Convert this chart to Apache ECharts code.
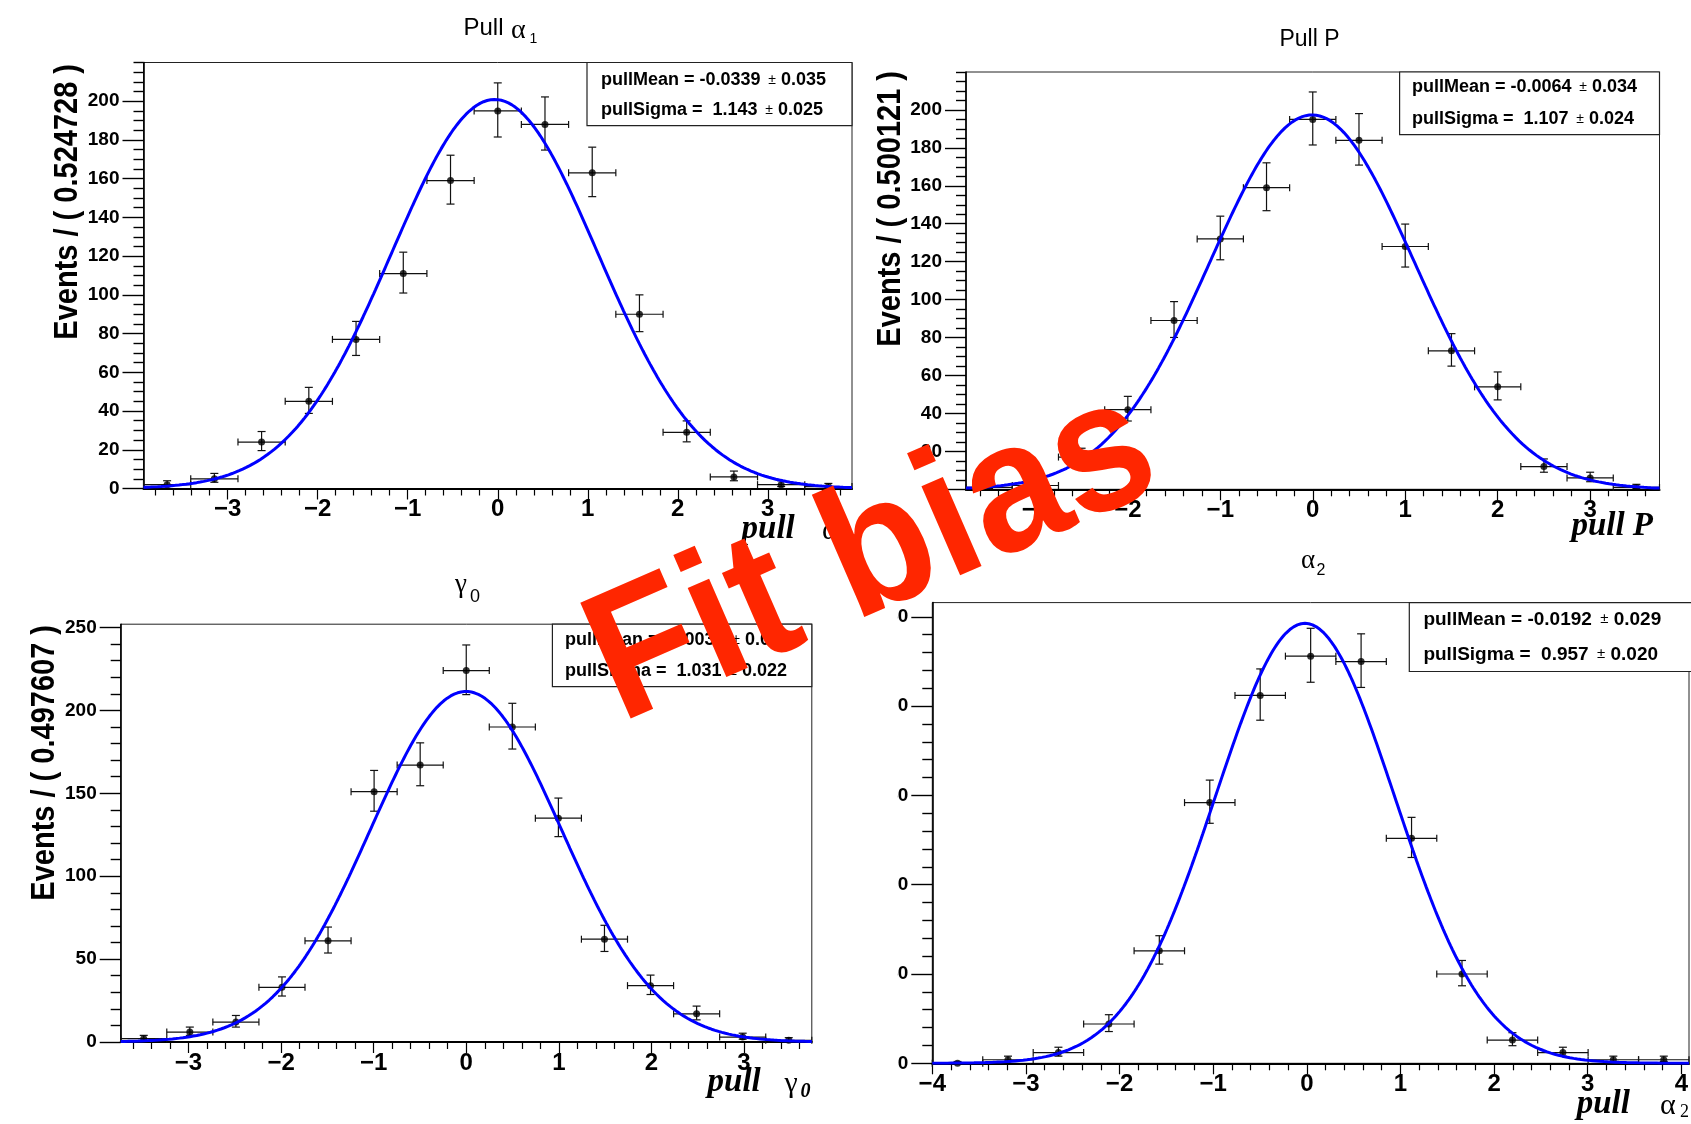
<!DOCTYPE html>
<html>
<head>
<meta charset="utf-8">
<script src="https://cdn.jsdelivr.net/npm/echarts@6/dist/echarts.min.js"></script>
<style>
html, body { margin: 0; padding: 0; background: #fff; }
#c { width: 1691px; height: 1124px; }
</style>
</head>
<body>
<div id="c"></div>
<script>
// ---- pull distributions (15 bins each) ----
const alpha1Centers = [-3.6731, -3.1484, -2.6236, -2.0989, -1.5742, -1.0495, -0.5247, 0, 0.5247, 1.0495, 1.5742, 2.0989, 2.6236, 3.1484, 3.6731];
const alpha1Counts  = [2, 5, 24, 45, 77, 111, 159, 195, 188, 163, 90, 29, 6, 2, 1];
const alpha1Fit = { mean: -0.0339, meanErr: 0.035, sigma: 1.143, sigmaErr: 0.025 };

const pCenters = [-3.5008, -3.0007, -2.5006, -2.0005, -1.5004, -1.0002, -0.5001, 0, 0.5001, 1.0002, 1.5004, 2.0005, 2.5006, 3.0007, 3.5008];
const pCounts  = [1, 2, 17, 42, 89, 132, 159, 195, 184, 128, 73, 54, 12, 6, 1];
const pFit = { mean: -0.0064, meanErr: 0.034, sigma: 1.107, sigmaErr: 0.024 };

const gamma0Centers = [-3.4832, -2.9856, -2.4880, -1.9904, -1.4928, -0.9952, -0.4976, 0, 0.4976, 0.9952, 1.4928, 1.9904, 2.4880, 2.9856, 3.4832];
const gamma0Counts  = [2, 6, 12, 33, 61, 151, 167, 224, 190, 135, 62, 34, 17, 3, 1];
const gamma0Fit = { mean: -0.0032, meanErr: 0.031, sigma: 1.031, sigmaErr: 0.022 };

const alpha2Centers = [-3.7306, -3.1918, -2.6530, -2.1142, -1.5754, -1.0366, -0.4978, 0.0410, 0.5798, 1.1186, 1.6574, 2.1962, 2.7350, 3.2738, 3.8126];
const alpha2Counts  = [0, 2, 6, 22, 63, 146, 206, 228, 225, 126, 50, 13, 6, 2, 2];
const alpha2Fit = { mean: -0.0192, meanErr: 0.029, sigma: 0.957, sigmaErr: 0.020 };

// ---- tick labels ----
const xTicks3 = [-3, -2, -1, 0, 1, 2, 3];
const xTicks4 = [-4, -3, -2, -1, 0, 1, 2, 3, 4];
const yTicks20 = [0, 20, 40, 60, 80, 100, 120, 140, 160, 180, 200];
const yTicks50 = [0, 50, 100, 150, 200, 250];

// ---- panel descriptions (data + axis ranges + layout) ----
const panels = [
  { centers: alpha1Centers, counts: alpha1Counts, binWidth: 0.524728, fit: alpha1Fit,
    xMin: -3.9355, xMax: 3.9355, yMax: 220, xTicks: xTicks3, yTicks: yTicks20, yMinor: 5,
    grid: { left: 143.5, top: 62.5, width: 708.5, height: 426 } },
  { centers: pCenters, counts: pCounts, binWidth: 0.500121, fit: pFit,
    xMin: -3.7509, xMax: 3.7509, yMax: 220, xTicks: xTicks3, yTicks: yTicks20, yMinor: 5,
    grid: { left: 966, top: 72, width: 693.5, height: 417.3 } },
  { centers: gamma0Centers, counts: gamma0Counts, binWidth: 0.497607, fit: gamma0Fit,
    xMin: -3.7321, xMax: 3.7321, yMax: 252, xTicks: xTicks3, yTicks: yTicks50, yMinor: 10,
    grid: { left: 120.7, top: 624.2, width: 691.1, height: 417.8 } },
  { centers: alpha2Centers, counts: alpha2Counts, binWidth: 0.5388, fit: alpha2Fit,
    xMin: -4.0, xMax: 4.082, yMax: 258, xTicks: xTicks4, yTicks: yTicks50, yMinor: 10,
    grid: { left: 932.3, top: 602.6, width: 763, height: 460.7 } }
];

const SANS = 'Liberation Sans';
const SERIF = 'Liberation Serif';

function fmt(v) { return v < 0 ? '\u2212' + Math.abs(v) : String(v); }

function minorValues(min, max, step, majors) {
  const out = [];
  const k0 = Math.ceil(min / step - 1e-9), k1 = Math.floor(max / step + 1e-9);
  for (let k = k0; k <= k1; k++) {
    const v = +(k * step).toFixed(6);
    if (!majors.some(m => Math.abs(m - v) < 1e-6)) out.push(v);
  }
  return out;
}

// Poisson-style asymmetric interval for a bin count
function poissonBand(n) {
  const r = Math.sqrt(n + 0.25);
  return [Math.max(0, n + 0.5 - r), n + 0.5 + r];
}

const grids = [], xAxes = [], yAxes = [], series = [];

panels.forEach((p, i) => {
  grids.push(Object.assign({ show: true, borderColor: '#222', borderWidth: 1, backgroundColor: 'transparent' }, p.grid));

  const xBase = { type: 'value', gridIndex: i, min: p.xMin, max: p.xMax, position: 'bottom', splitLine: { show: false } };
  xAxes.push(Object.assign({}, xBase, {
    axisLine: { show: true, onZero: false, lineStyle: { color: '#000', width: 2 } },
    axisTick: { show: true, inside: false, length: 11, customValues: p.xTicks, lineStyle: { color: '#000', width: 1.2 } },
    axisLabel: { show: true, customValues: p.xTicks, formatter: fmt, margin: 9, fontSize: 24, fontWeight: 'bold', color: '#000', fontFamily: SANS }
  }));
  xAxes.push(Object.assign({}, xBase, {
    axisLine: { show: false, onZero: false },
    axisTick: { show: true, inside: false, length: 7, customValues: minorValues(p.xMin, p.xMax, 0.2, p.xTicks), lineStyle: { color: '#000', width: 1.2 } },
    axisLabel: { show: false }
  }));

  const yBase = { type: 'value', gridIndex: i, min: 0, max: p.yMax, position: 'left', splitLine: { show: false } };
  yAxes.push(Object.assign({}, yBase, {
    axisLine: { show: true, onZero: false, lineStyle: { color: '#000', width: 1.6 } },
    axisTick: { show: true, inside: false, length: 21, customValues: p.yTicks, lineStyle: { color: '#000', width: 1.4 } },
    axisLabel: { show: true, customValues: p.yTicks, margin: 24, fontSize: 19, fontWeight: 'bold', color: '#000', fontFamily: SANS }
  }));
  yAxes.push(Object.assign({}, yBase, {
    axisLine: { show: false, onZero: false },
    axisTick: { show: true, inside: false, length: 10, customValues: minorValues(0, p.yMax, p.yMinor, p.yTicks), lineStyle: { color: '#000', width: 1.4 } },
    axisLabel: { show: false }
  }));

  const half = p.binWidth / 2;
  const barData = p.centers.map((x, k) => {
    const band = poissonBand(p.counts[k]);
    return [x, p.counts[k], band[0], band[1], half];
  });

  // error bars: bin width horizontally, Poisson interval vertically
  series.push({
    type: 'custom', xAxisIndex: 2 * i, yAxisIndex: 2 * i, z: 2, clip: false,
    data: barData,
    renderItem: function (params, api) {
      const x = api.value(0), y = api.value(1), lo = api.value(2), hi = api.value(3), hw = api.value(4);
      const c = api.coord([x, y]);
      const l = api.coord([x - hw, y]), r = api.coord([x + hw, y]);
      const b = api.coord([x, lo]), t = api.coord([x, hi]);
      const st = { stroke: '#111', lineWidth: 1.2 };
      const cap = 4, vcap = 3.5;
      return { type: 'group', children: [
        { type: 'line', shape: { x1: l[0], y1: c[1], x2: r[0], y2: c[1] }, style: st },
        { type: 'line', shape: { x1: l[0], y1: c[1] - vcap, x2: l[0], y2: c[1] + vcap }, style: st },
        { type: 'line', shape: { x1: r[0], y1: c[1] - vcap, x2: r[0], y2: c[1] + vcap }, style: st },
        { type: 'line', shape: { x1: c[0], y1: b[1], x2: c[0], y2: t[1] }, style: st },
        { type: 'line', shape: { x1: c[0] - cap, y1: t[1], x2: c[0] + cap, y2: t[1] }, style: st },
        { type: 'line', shape: { x1: c[0] - cap, y1: b[1], x2: c[0] + cap, y2: b[1] }, style: st }
      ] };
    }
  });

  series.push({
    type: 'scatter', xAxisIndex: 2 * i, yAxisIndex: 2 * i, z: 3,
    symbol: 'circle', symbolSize: 7, itemStyle: { color: '#000' },
    data: p.centers.map((x, k) => [x, p.counts[k]])
  });

  // fitted Gaussian from the quoted pullMean / pullSigma, normalised to the entries
  const total = p.counts.reduce((a, b) => a + b, 0);
  const amp = total * p.binWidth / (p.fit.sigma * Math.sqrt(2 * Math.PI));
  const curve = [];
  const nS = 400;
  for (let s = 0; s <= nS; s++) {
    const x = p.xMin + (p.xMax - p.xMin) * s / nS;
    const z = (x - p.fit.mean) / p.fit.sigma;
    curve.push([x, amp * Math.exp(-0.5 * z * z)]);
  }
  series.push({
    type: 'line', xAxisIndex: 2 * i, yAxisIndex: 2 * i, z: 4,
    showSymbol: false, smooth: false, lineStyle: { color: '#0000ff', width: 3 },
    data: curve
  });
});

// ---- text & boxes ----
function txt(x, y, text, opt) {
  return Object.assign({ type: 'text', x: x, y: y, z: 50,
    style: Object.assign({ text: text, fill: '#000', align: 'left', verticalAlign: 'middle' }, opt.style || {}) },
    opt.el || {});
}

function statBox(i, box, y1, y2, xText, fs) {
  const f = panels[i].fit;
  const rich = {
    b: { fontFamily: SANS, fontWeight: 'bold', fontSize: fs, fill: '#000' },
    pm: { fontFamily: SANS, fontSize: Math.round(fs * 0.8), fill: '#000' }
  };
  const meanStr = f.mean.toFixed(4);
  const sigStr = f.sigma.toFixed(3);
  return [
    { type: 'rect', z: 40, shape: box, style: { fill: '#fff', stroke: '#222', lineWidth: 1.2 } },
    txt(xText, y1, '{b|pullMean = ' + meanStr + '}{pm|  \u00b1}{b| ' + f.meanErr.toFixed(3) + '}', { style: { rich: rich } }),
    txt(xText, y2, '{b|pullSigma =  ' + sigStr + '}{pm|  \u00b1}{b| ' + f.sigmaErr.toFixed(3) + '}', { style: { rich: rich } })
  ];
}

const titleFont = (s) => ({ fontFamily: SANS, fontSize: s, fontWeight: 'normal' });
const greekFont = (s) => ({ fontFamily: SERIF, fontSize: s, fontWeight: 'normal' });
const ytFont = { fontFamily: SANS, fontSize: 29, fontWeight: 'bold' };
const xtFont = { fontFamily: SERIF, fontSize: 33, fontWeight: 'bold', fontStyle: 'italic' };
const ytEl = { rotation: Math.PI / 2, scaleY: 1.12 };

const graphics = [].concat(
  // panel titles
  [ txt(463.5, 28, 'Pull ', { style: titleFont(24) }),
    txt(511, 30.5, '\u03b1', { style: greekFont(28) }),
    txt(529.5, 39, '1', { style: titleFont(14) }),
    txt(1309.5, 39.5, 'Pull P', { style: Object.assign(titleFont(23), { align: 'center' }) }),
    txt(455, 585, '\u03b3', { style: greekFont(27) }),
    txt(470, 597, '0', { style: titleFont(18) }),
    txt(1301, 561, '\u03b1', { style: greekFont(27) }),
    txt(1316.5, 571, '2', { style: titleFont(16) }) ],
  // y-axis titles
  [ txt(68, 64, 'Events / ( 0.524728 )', { style: Object.assign({}, ytFont, { align: 'right' }), el: ytEl }),
    txt(891.5, 71, 'Events / ( 0.500121 )', { style: Object.assign({}, ytFont, { align: 'right' }), el: ytEl }),
    txt(45, 625, 'Events / ( 0.497607 )', { style: Object.assign({}, ytFont, { align: 'right' }), el: ytEl }) ],
  // x-axis titles
  [ txt(741.6, 529, 'pull', { style: xtFont }),
    txt(822, 531, '\u03b1', { style: greekFont(30) }),
    txt(843, 539, '1', { style: titleFont(16) }),
    txt(1653, 526, 'pull P', { style: Object.assign({}, xtFont, { align: 'right' }) }),
    txt(707.6, 1082, 'pull', { style: xtFont }),
    txt(784.4, 1084, '\u03b3', { style: greekFont(30) }),
    txt(800.5, 1092, '0', { style: Object.assign({}, xtFont, { fontSize: 20 }) }),
    txt(1576.7, 1104, 'pull', { style: xtFont }),
    txt(1660, 1106, '\u03b1', { style: greekFont(30) }),
    txt(1680, 1112, '2', { style: Object.assign({}, greekFont(18)) }) ],
  // fit result boxes
  statBox(0, { x: 587, y: 62.5, width: 265, height: 63.2 }, 80, 110, 601, 18),
  statBox(1, { x: 1399.6, y: 72, width: 259.9, height: 62.6 }, 87, 119, 1412, 18),
  statBox(2, { x: 552.4, y: 624.2, width: 259.4, height: 62.5 }, 640, 671, 565, 18),
  statBox(3, { x: 1409.3, y: 602.6, width: 290, height: 68.9 }, 619.3, 654.3, 1423.4, 19),
  // the lower-right panel is trimmed on its left side
  [ { type: 'rect', z: 60, shape: { x: 816, y: 585, width: 81.5, height: 500 }, style: { fill: '#fff' } } ],
  // overlay caption
  [ { type: 'text', z: 100, x: 873, y: 558, rotation: 23.5 * Math.PI / 180, scaleY: 1.08,
      style: { text: 'Fit bias', fill: '#ff2600', fontFamily: SANS, fontWeight: 'bold', fontSize: 170, align: 'center', verticalAlign: 'middle' } } ]
);

const chart = echarts.init(document.getElementById('c'), null, { renderer: 'canvas' });
chart.setOption({
  animation: false,
  backgroundColor: '#fff',
  textStyle: { fontFamily: SANS },
  grid: grids,
  xAxis: xAxes,
  yAxis: yAxes,
  series: series,
  graphic: graphics
});
</script>
</body>
</html>
